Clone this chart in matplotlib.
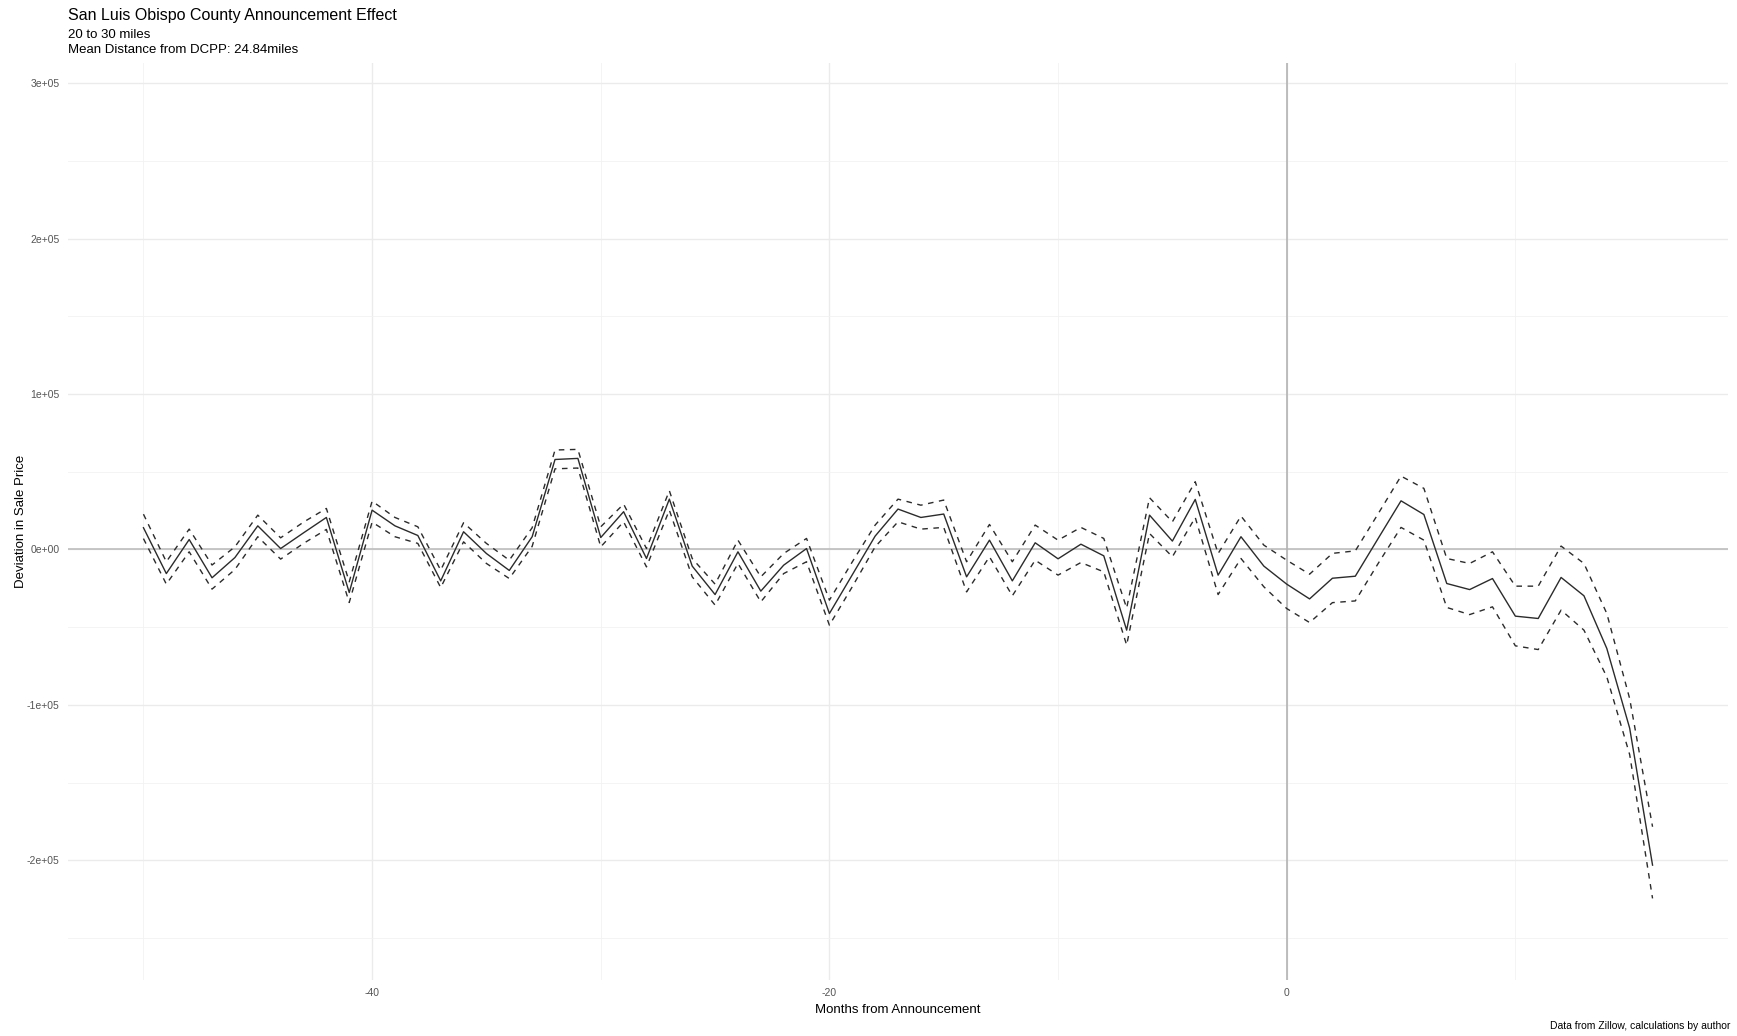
import numpy as np
import matplotlib
matplotlib.use("Agg")
import matplotlib.pyplot as plt
from matplotlib.ticker import MultipleLocator, FuncFormatter

plt.rcParams['font.family'] = ['Liberation Sans', 'DejaVu Sans']

# months relative to announcement
months = list(range(-50, 17))

# estimated deviation in sale price
estimate = [14000, -15500, 6400, -18200, -5200, 15200, 600, 10700, 20600, -27700,
            25300, 15200, 9000, -20200, 11400, -2600, -13500, 8200, 57900, 58600,
            7700, 24300, -5800, 32400, -10700, -29000, -1500, -26800, -10100, 600,
            -41200, -16300, 8600, 26000, 20600, 22800, -17600, 6000, -20200, 4300,
            -6000, 3400, -4100, -51900, 22100, 5400, 32200, -16500, 8200, -10700,
            -22300, -31800, -18500, -17200, 7100, 31300, 22500, -21900, -25800, -18700,
            -42900, -44400, -18000, -29800, -63700, -115000, -203100]

upper = [22700, -7900, 13100, -10000, 1700, 22100, 7500, 17600, 26400, -20800,
         31100, 20600, 14600, -13300, 17200, 3900, -6900, 14000, 64000, 64400,
         14600, 29200, 600, 37800, -5800, -22300, 6000, -17600, -2600, 7100,
         -32600, -8000, 15700, 32400, 28500, 31800, -7900, 16100, -7900, 15700,
         6000, 14200, 7100, -37700, 33300, 17800, 43600, -2600, 21500, 2800,
         -6900, -15900, -2500, -900, 23000, 47200, 39300, -5800, -9000, -1500,
         -23600, -23600, 2200, -9000, -41200, -96000, -178400]

lower = [7000, -22300, -1500, -25500, -12900, 8200, -6200, 3900, 12900, -34100,
         17600, 8200, 3900, -24500, 4900, -9000, -18700, 2000, 51900, 52400,
         1700, 17800, -11200, 25300, -17600, -35800, -9000, -33700, -15500, -7900,
         -48700, -24000, 1700, 17800, 13100, 14200, -27300, -4700, -29800, -6900,
         -16500, -8400, -14400, -61500, 10300, -4700, 20600, -29000, -5800, -24000,
         -38000, -47000, -34200, -33100, -9000, 14200, 6000, -37300, -41900, -36900,
         -62000, -64400, -39000, -51900, -82000, -132000, -224500]

fig = plt.figure(figsize=(17.37, 10.36), dpi=100)
ax = fig.add_axes([68 / 1737, 1 - 980 / 1036, (1728 - 68) / 1737, (980 - 63) / 1036])

line_col = '#2b2b2b'
ax.plot(months, upper, color=line_col, lw=1.0, linestyle=(0, (4, 4)), zorder=3)
ax.plot(months, lower, color=line_col, lw=1.0, linestyle=(0, (4, 4)), zorder=3)
ax.plot(months, estimate, color=line_col, lw=1.0, zorder=4)

ax.axhline(0, color='#bdbdbd', lw=1.2, zorder=2)
ax.axvline(0, color='#b3b3b3', lw=1.2, zorder=2)

ax.set_xlim(-53.3, 19.3)
ax.set_ylim(-277000, 313000)

ax.xaxis.set_major_locator(MultipleLocator(20))
ax.xaxis.set_minor_locator(MultipleLocator(10))
ax.yaxis.set_major_locator(MultipleLocator(100000))
ax.yaxis.set_minor_locator(MultipleLocator(50000))


def sci_fmt(v, pos):
    if v == 0:
        return '0e+00'
    return '%.0e' % v


ax.yaxis.set_major_formatter(FuncFormatter(sci_fmt))
ax.xaxis.set_major_formatter(FuncFormatter(lambda v, p: '%d' % v))

ax.grid(which='major', color='#ebebeb', lw=1.0, zorder=0)
ax.grid(which='minor', color='#f2f2f2', lw=0.6, zorder=0)
ax.set_axisbelow(True)
for sp in ax.spines.values():
    sp.set_visible(False)
ax.tick_params(which='both', length=0, labelsize=7.5, labelcolor='#555555')
ax.tick_params(axis='x', pad=6)
ax.tick_params(axis='y', pad=6)

ax.set_xlabel('Months from Announcement', fontsize=9.5, labelpad=4)
ax.set_ylabel('Deviation in Sale Price', fontsize=9.5, labelpad=0)

fig.text(68 / 1737, 1 - 15.5 / 1036, 'San Luis Obispo County Announcement Effect',
         fontsize=11.5, ha='left', va='center')
fig.text(68 / 1737, 1 - 35.5 / 1036, '20 to 30 miles', fontsize=9.5, ha='left', va='center')
fig.text(68 / 1737, 1 - 50 / 1036, 'Mean Distance from DCPP: 24.84miles',
         fontsize=9.5, ha='left', va='center')
fig.text(1730 / 1737, 1 - 1026 / 1036, 'Data from Zillow, calculations by author',
         fontsize=7.5, ha='right', va='center')

fig.savefig('out.png', dpi=100, facecolor='white')
